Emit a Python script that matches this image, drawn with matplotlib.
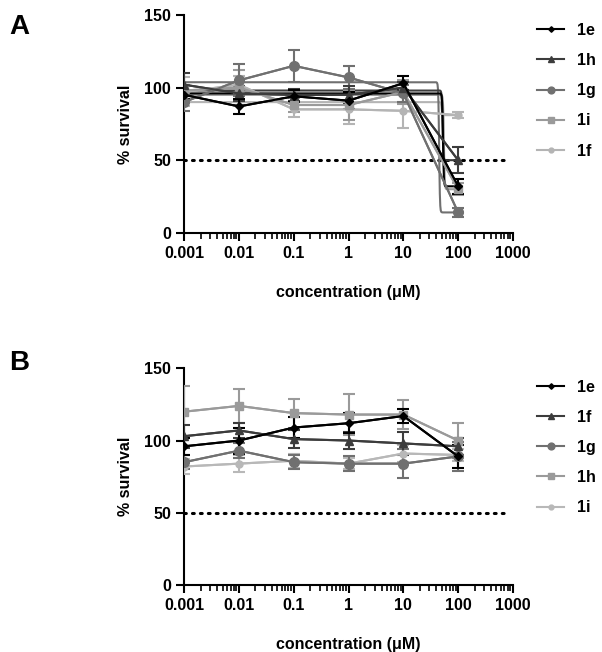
import numpy as np
import matplotlib
matplotlib.use("Agg")
import matplotlib.pyplot as plt

plt.rcParams['font.family'] = ['Liberation Sans', 'DejaVu Sans']
plt.rcParams['font.weight'] = 'bold'

conc = [0.001, 0.01, 0.1, 1, 10, 100]

# panel A
labels_a = ["1e", "1h", "1g", "1i", "1f"]
vals_a = {
    "1e": [95, 87, 94, 91, 103, 32],
    "1h": [102, 96, 95, 95, 100, 50],
    "1g": [90, 105, 115, 107, 96, 14],
    "1i": [98, 100, 88, 88, 97, 30],
    "1f": [97, 102, 85, 85, 84, 81],
}
err_a = {
    "1e": [3, 5, 4, 6, 5, 5],
    "1h": [8, 5, 4, 6, 4, 9],
    "1g": [6, 11, 11, 8, 6, 3],
    "1i": [4, 12, 5, 10, 8, 4],
    "1f": [10, 6, 5, 10, 12, 2],
}
# fitted curves: top, bottom, IC50
fit_top_a = {"1e": 96, "1h": 98, "1g": 103.7, "1i": 95, "1f": 90}
fit_bot_a = {"1e": 32, "1h": 50, "1g": 14, "1i": 30, "1f": 81}
fit_ic50_a = {"1e": 53, "1h": 52, "1g": 45, "1i": 55, "1f": 50}

# panel B
labels_b = ["1e", "1f", "1g", "1h", "1i"]
vals_b = {
    "1e": [96, 100, 109, 112, 117, 89],
    "1f": [103, 107, 101, 100, 98, 96],
    "1g": [85, 93, 85, 84, 84, 89],
    "1h": [120, 124, 119, 118, 118, 100],
    "1i": [82, 84, 86, 84, 91, 90],
}
err_b = {
    "1e": [6, 9, 7, 7, 5, 8],
    "1f": [8, 5, 6, 6, 8, 6],
    "1g": [5, 5, 5, 5, 10, 10],
    "1h": [18, 12, 10, 14, 10, 12],
    "1i": [5, 6, 5, 4, 6, 4],
}

style_a = {
    "1e": ("#000000", "D", 4),
    "1h": ("#3c3c3c", "^", 6),
    "1g": ("#707070", "o", 7),
    "1i": ("#9a9a9a", "s", 6),
    "1f": ("#b4b4b4", "o", 5),
}
style_b = {
    "1e": ("#000000", "D", 4),
    "1f": ("#3c3c3c", "^", 6),
    "1g": ("#707070", "o", 7),
    "1h": ("#9a9a9a", "s", 6),
    "1i": ("#b8b8b8", "o", 5),
}


def setup_axis(ax):
    ax.set_xscale("log")
    ax.set_xlim(0.001, 1000)
    ax.set_ylim(0, 150)
    ax.set_yticks([0, 50, 100, 150])
    ax.set_xticks([0.001, 0.01, 0.1, 1, 10, 100, 1000])
    ax.set_xticklabels(["0.001", "0.01", "0.1", "1", "10", "100", "1000"])
    ax.spines["top"].set_visible(False)
    ax.spines["right"].set_visible(False)
    ax.spines["left"].set_linewidth(1.5)
    ax.spines["bottom"].set_linewidth(1.5)
    ax.tick_params(axis="both", which="major", length=6, width=1.5,
                   labelsize=11.5, direction="out")
    ax.tick_params(axis="x", which="minor", length=4, width=1.2)
    ax.set_ylabel("% survival", fontsize=11.5, fontweight="bold", labelpad=8)
    ax.set_xlabel("concentration (\u03bcM)", fontsize=11.5, fontweight="bold", labelpad=17)
    for t in ax.get_xticklabels() + ax.get_yticklabels():
        t.set_fontweight("bold")
    ax.plot([0.001, 700], [50, 50], color="black", lw=2.2,
            linestyle=(0, (0.6, 2.0)), dash_capstyle="round", zorder=1)


def add_legend(ax, handles, labels, anchor_y):
    ax.legend([handles[l] for l in labels], labels, loc="upper left",
              bbox_to_anchor=(1.03, anchor_y), frameon=False, handlelength=1.7,
              labelspacing=0.95, prop={"size": 11.5, "weight": "bold"},
              markerscale=0.7)


fig = plt.figure(figsize=(6.02, 6.52), dpi=100)
ax_a = fig.add_axes([0.306, 0.643, 0.546, 0.334])
ax_b = fig.add_axes([0.306, 0.103, 0.546, 0.332])

xfit = np.logspace(-3, 2, 600)

setup_axis(ax_a)
for lab in reversed(labels_a):
    c, m, ms = style_a[lab]
    top, bot, ic = fit_top_a[lab], fit_bot_a[lab], fit_ic50_a[lab]
    yfit = bot + (top - bot) / (1 + (xfit / ic) ** 60)
    ax_a.plot(xfit, yfit, color=c, lw=1.5, zorder=2)
handles = {}
for lab in reversed(labels_a):
    c, m, ms = style_a[lab]
    ax_a.errorbar(conc, vals_a[lab], yerr=err_a[lab], color=c, ecolor=c,
                  elinewidth=1.5, capsize=4, capthick=1.5, lw=1.5, zorder=3)
    h, = ax_a.plot(conc, vals_a[lab], color=c, marker=m, markersize=ms,
                   lw=1.5, zorder=4)
    handles[lab] = h
add_legend(ax_a, handles, labels_a, 1.03)

setup_axis(ax_b)
handles = {}
for lab in reversed(labels_b):
    c, m, ms = style_b[lab]
    ax_b.errorbar(conc, vals_b[lab], yerr=err_b[lab], color=c, ecolor=c,
                  elinewidth=1.5, capsize=4, capthick=1.5, lw=1.5, zorder=3)
    h, = ax_b.plot(conc, vals_b[lab], color=c, marker=m, markersize=ms,
                   lw=1.5, zorder=4)
    handles[lab] = h
add_legend(ax_b, handles, labels_b, 1.015)

fig.text(0.015, 0.948, "A", fontsize=20, fontweight="bold")
fig.text(0.015, 0.433, "B", fontsize=20, fontweight="bold")

plt.savefig("out.png", dpi=100)
plt.close()
